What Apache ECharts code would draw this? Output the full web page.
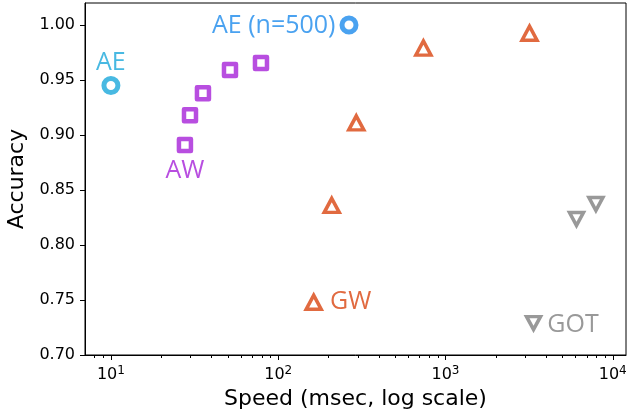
<!DOCTYPE html>
<html>
<head>
<meta charset="utf-8">
<script src="https://cdn.jsdelivr.net/npm/echarts@6/dist/echarts.min.js"></script>
<style>
  html, body { margin: 0; padding: 0; background: #fff; }
  #chart { width: 632px; height: 411px; }
</style>
</head>
<body>
<div id="chart"></div>
<script>
// values
var aeSpeed = [10];
var aeAcc = [0.945];
var ae500Speed = [265];
var ae500Acc = [1.0];
var awSpeed = [27.7, 29.7, 35.5, 51.5, 78.9];
var awAcc = [0.891, 0.918, 0.938, 0.959, 0.9655];
var gwSpeed = [144.5, 163, 209, 293, 738, 3180];
var gwAcc = [0.692, 0.748, 0.836, 0.911, 0.979, 0.9925];
var gotSpeed = [3360, 6070, 7930];
var gotAcc = [0.729, 0.8236, 0.8373];

var xMajor = [10, 100, 1000, 10000];
var xMinor = [8, 9, 20, 30, 40, 50, 60, 70, 80, 90, 200, 300, 400, 500, 600, 700, 800, 900,
  2000, 3000, 4000, 5000, 6000, 7000, 8000, 9000];
var yTicks = [0.70, 0.75, 0.80, 0.85, 0.90, 0.95, 1.00];

var tickFont = 'DejaVu Sans';
var noteFont = 'Open Sans';

function pairs(xs, ys) {
  var out = [];
  for (var i = 0; i < xs.length; i++) out.push([xs[i], ys[i]]);
  return out;
}

// put a text label on one point of a series
function withLabel(data, idx, text, label) {
  return data.map(function (d, i) {
    if (i !== idx) return d;
    var l = Object.assign({ show: true, formatter: text }, label);
    return { value: d, label: l };
  });
}

var AE = '#48b9e2';
var AE500 = '#4aa2f0';
var AW = '#b84ee0';
var GW = '#e16a40';
var GOT = '#999999';

var noteStyle = { fontFamily: noteFont, fontSize: 25 };

var myChart = echarts.init(document.getElementById('chart'));
myChart.setOption({
  animation: false,
  grid: {
    left: 85, right: 6, top: 3, bottom: 56,
    outerBoundsMode: 'none',
    containLabel: false,
    show: true, borderColor: '#000', borderWidth: 1
  },
  xAxis: [
    {
      type: 'log',
      logBase: 10,
      min: 7,
      max: 12000,
      name: 'Speed (msec, log scale)',
      nameLocation: 'middle',
      nameGap: 29,
      nameTextStyle: { fontFamily: tickFont, fontSize: 22, color: '#000' },
      axisLine: { show: true, lineStyle: { color: '#000', width: 1 } },
      axisTick: { show: true, customValues: xMajor, length: 5, lineStyle: { color: '#000' } },
      axisLabel: {
        customValues: xMajor,
        margin: 10,
        formatter: function (v) {
          return '{b|10}{e|' + Math.round(Math.log10(v)) + '}';
        },
        rich: {
          b: { fontFamily: tickFont, fontSize: 16, color: '#000', lineHeight: 20 },
          e: { fontFamily: tickFont, fontSize: 12, color: '#000', lineHeight: 8, verticalAlign: 'top' }
        }
      },
      splitLine: { show: false }
    },
    {
      // only the minor log ticks
      type: 'log',
      logBase: 10,
      min: 7,
      max: 12000,
      gridIndex: 0,
      position: 'bottom',
      axisLine: { show: false },
      axisTick: { show: true, customValues: xMinor, length: 3, lineStyle: { color: '#000' } },
      axisLabel: { show: false },
      splitLine: { show: false }
    }
  ],
  yAxis: {
    type: 'value',
    min: 0.70,
    max: 1.02,
    interval: 0.05,
    name: 'Accuracy',
    nameLocation: 'middle',
    nameGap: 52,
    nameTextStyle: { fontFamily: tickFont, fontSize: 22, color: '#000' },
    axisLine: { show: true, lineStyle: { color: '#000', width: 1 } },
    axisTick: { show: true, customValues: yTicks, length: 5, lineStyle: { color: '#000' } },
    axisLabel: {
      customValues: yTicks,
      margin: 10,
      fontFamily: tickFont,
      fontSize: 16,
      color: '#000',
      formatter: function (v) { return v.toFixed(2); }
    },
    splitLine: { show: false }
  },
  series: [
    {
      name: 'AE',
      type: 'scatter',
      symbol: 'circle',
      symbolSize: 14,
      itemStyle: { color: '#fff', borderColor: AE, borderWidth: 5, opacity: 1 },
      data: withLabel(pairs(aeSpeed, aeAcc), 0, 'AE',
        Object.assign({ position: 'inside', offset: [0, -23], color: AE }, noteStyle))
    },
    {
      name: 'AE (n=500)',
      type: 'scatter',
      symbol: 'circle',
      symbolSize: 14,
      itemStyle: { color: '#fff', borderColor: AE500, borderWidth: 5, opacity: 1 },
      data: withLabel(pairs(ae500Speed, ae500Acc), 0, 'AE (n=500)',
        Object.assign({ position: 'left', distance: 4, offset: [0, 1], color: AE500 }, noteStyle))
    },
    {
      name: 'AW',
      type: 'scatter',
      symbol: 'rect',
      symbolSize: 12,
      itemStyle: { color: '#fff', borderColor: AW, borderWidth: 4.5, borderJoin: 'round', opacity: 1 },
      data: withLabel(pairs(awSpeed, awAcc), 0, 'AW',
        Object.assign({ position: 'inside', offset: [0, 26], color: AW }, noteStyle))
    },
    {
      name: 'GW',
      type: 'scatter',
      symbol: 'triangle',
      symbolSize: [15, 14],
      clip: true,
      itemStyle: { color: '#fff', borderColor: GW, borderWidth: 3.5, borderJoin: 'miter', opacity: 1 },
      data: withLabel(pairs(gwSpeed, gwAcc), 1, 'GW',
        Object.assign({ position: 'right', distance: 7, color: GW }, noteStyle))
    },
    {
      name: 'GOT',
      type: 'scatter',
      symbol: 'triangle',
      symbolRotate: 180,
      symbolSize: [14, 13],
      itemStyle: { color: '#fff', borderColor: GOT, borderWidth: 3.5, borderJoin: 'miter', opacity: 1 },
      data: withLabel(pairs(gotSpeed, gotAcc), 0, 'GOT',
        Object.assign({ position: 'right', distance: 5, offset: [0, 2], color: GOT }, noteStyle))
    }
  ]
});
window.onresize = function () {
  myChart.resize();
};
</script>
</body>
</html>
